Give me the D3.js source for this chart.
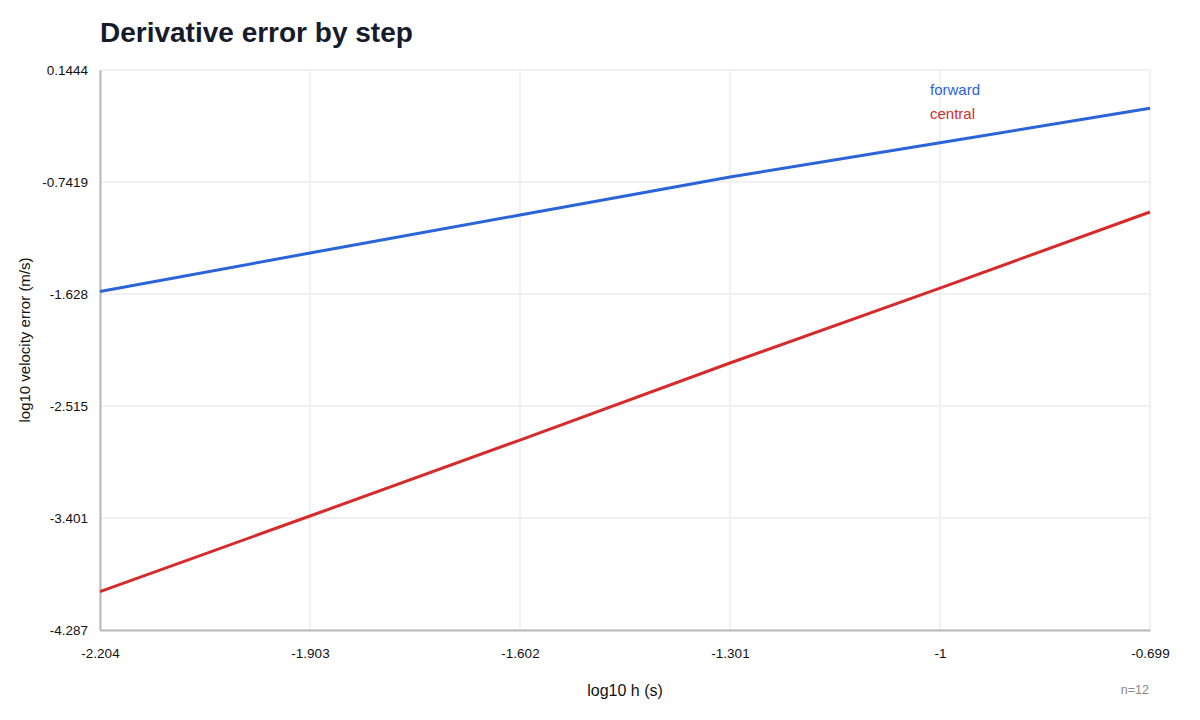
<!DOCTYPE html>
<html><head><meta charset="utf-8">
<script src="https://cdn.jsdelivr.net/npm/d3@7"></script>
<style>
body{margin:0;background:#fff;font-family:"Liberation Sans",Arial,Helvetica,sans-serif;}
</style></head>
<body><svg id="c" width="1200" height="720"></svg>
<script>
const logH = [-2.204, -1.903, -1.602, -1.301, -1, -0.699];
const forwardErr = [-1.609, -1.304, -1.003, -0.702, -0.431, -0.159];
const centralErr = [-3.984, -3.385, -2.784, -2.174, -1.581, -0.979];
const xTicks = [-2.204, -1.903, -1.602, -1.301, -1, -0.699];
const yTicks = [0.1444, -0.7419, -1.628, -2.515, -3.401, -4.287];
const seriesNames = ["forward", "central"];
const seriesColors = ["#2a64d8", "#d62b2b"];

const svg = d3.select("#c");
const m = {l:100, r:1150, t:70, b:630};
const x = d3.scaleLinear().domain([-2.204, -0.699]).range([m.l, m.r]);
const y = d3.scaleLinear().domain([-4.287, 0.1444]).range([m.b, m.t]);

svg.append("text").attr("x",100).attr("y",42).attr("font-size",28).attr("font-weight","bold")
  .attr("fill","#161b2c").text("Derivative error by step");

// grid
const g = svg.append("g");
g.selectAll(".gx").data(xTicks).join("line").attr("x1",d=>x(d)).attr("x2",d=>x(d))
  .attr("y1",m.t).attr("y2",m.b).attr("stroke","#ececec").attr("stroke-width",1.5);
g.selectAll(".gy").data(yTicks).join("line").attr("y1",d=>y(d)).attr("y2",d=>y(d))
  .attr("x1",m.l).attr("x2",m.r).attr("stroke","#ececec").attr("stroke-width",1.5);

// axes
const xAxis = d3.axisBottom(x).tickValues(xTicks).tickSize(0).tickPadding(18).tickFormat(d=>String(d));
const yAxis = d3.axisLeft(y).tickValues(yTicks).tickSize(0).tickPadding(12).tickFormat(d=>String(d));
const ax = svg.append("g").attr("transform",`translate(0,${m.b})`).call(xAxis);
const ay = svg.append("g").attr("transform",`translate(${m.l},0)`).call(yAxis);
[ax, ay].forEach(a=>{
  a.select(".domain").attr("stroke","#b8b8be").attr("stroke-width",2);
  a.selectAll("text").attr("font-size",13.5).attr("fill","#111").attr("font-family","Liberation Sans, Arial, sans-serif");
});

// lines
const data = [forwardErr, centralErr];
const line = d3.line().x((d,i)=>x(logH[i])).y(d=>y(d));
svg.append("g").selectAll("path").data(data).join("path")
  .attr("d",line).attr("fill","none").attr("stroke",(d,i)=>seriesColors[i]).attr("stroke-width",3);

// legend
svg.append("g").selectAll("text").data(seriesNames).join("text")
  .attr("x",930).attr("y",(d,i)=>95+i*24).attr("font-size",15).attr("fill",(d,i)=>seriesColors[i]).text(d=>d);

// labels
svg.append("text").attr("x",625).attr("y",696).attr("text-anchor","middle").attr("font-size",16).attr("fill","#111").text("log10 h (s)");
svg.append("text").attr("transform","translate(30,340) rotate(-90)").attr("text-anchor","middle").attr("font-size",15).attr("fill","#111").text("log10 velocity error (m/s)");
svg.append("text").attr("x",1149).attr("y",694).attr("text-anchor","end").attr("font-size",12.5).attr("fill","#888").text("n=12");
</script></body></html>
